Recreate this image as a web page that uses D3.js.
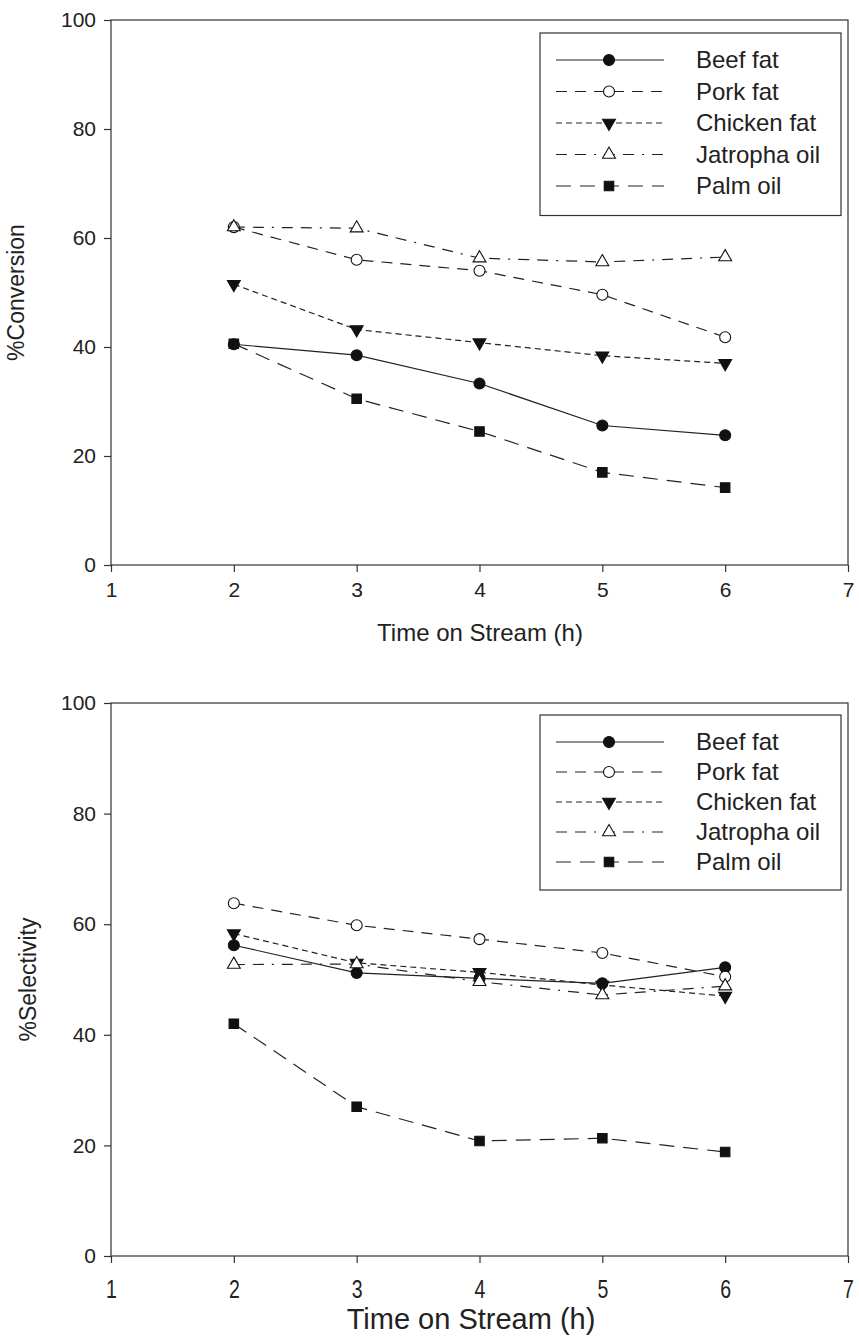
<!DOCTYPE html>
<meta charset="utf-8">
<style>
body { margin: 0; background: #fff; }
svg { font-family: "Liberation Sans", Arial, sans-serif; }
.frame { fill: none; stroke: #333; stroke-width: 1.2px; }
.axis path { display: none; }
.axis line { stroke: #333; stroke-width: 1.2px; }
.axis text { fill: #222; }
.serie { fill: none; stroke: #222; stroke-width: 1.2px; }
.legend-box { fill: #fff; stroke: #333; stroke-width: 1.2px; }
</style>
<body>
<script src="https://d3js.org/d3.v7.min.js"></script>
<script>

// data
var hours = [2, 3, 4, 5, 6];
var seriesNames = ["Beef fat", "Pork fat", "Chicken fat", "Jatropha oil", "Palm oil"];
var yTicks = [0, 20, 40, 60, 80, 100];
var xTicks = [1, 2, 3, 4, 5, 6, 7];

// %Conversion
var convBeef     = [40.5, 38.5, 33.3, 25.6, 23.8];
var convPork     = [62.0, 56.0, 54.0, 49.6, 41.8];
var convChicken  = [51.5, 43.2, 40.8, 38.4, 37.0];
var convJatropha = [62.0, 61.8, 56.3, 55.6, 56.5];
var convPalm     = [40.6, 30.5, 24.5, 17.0, 14.2];

// %Selectivity
var selBeef     = [56.2, 51.2, 50.2, 49.3, 52.2];
var selPork     = [63.8, 59.8, 57.3, 54.8, 50.5];
var selChicken  = [58.3, 53.0, 51.3, 49.0, 47.0];
var selJatropha = [52.7, 52.8, 49.6, 47.2, 48.8];
var selPalm     = [42.0, 27.0, 20.8, 21.3, 18.8];

// how each series is drawn
var styles = [
  {symbol: d3.symbolCircle,   size: 95, fill: "#111", rot: 0,   dash: null},
  {symbol: d3.symbolCircle,   size: 95, fill: "#fff", rot: 0,   dash: "11,8"},
  {symbol: d3.symbolTriangle, size: 72, fill: "#111", rot: 180, dash: "6,4"},
  {symbol: d3.symbolTriangle, size: 72, fill: "#fff", rot: 0,   dash: "11,8,11,8,2,8"},
  {symbol: d3.symbolSquare,   size: 90, fill: "#111", rot: 0,   dash: "15,9"}
];

var charts = [
  {top: 20, bottom: 565, title: "%Conversion", titleX: 24,
   values: [convBeef, convPork, convChicken, convJatropha, convPalm],
   legendTop: 33, legendStep: 31.5, narrow: false,
   xLabelGap: 10, xTitleY: 641, xTitleSize: 24, xTitleMid: 480},
  {top: 703, bottom: 1256, title: "%Selectivity", titleX: 36,
   values: [selBeef, selPork, selChicken, selJatropha, selPalm],
   legendTop: 715, legendStep: 30, narrow: true,
   xLabelGap: 17, xTitleY: 1329, xTitleSize: 29, xTitleMid: 471}
];

var svg = d3.select("body").append("svg")
    .attr("width", 859)
    .attr("height", 1342);

var x = d3.scaleLinear().domain([1, 7]).range([111, 848]);

charts.forEach(function(c) {
  var y = d3.scaleLinear().domain([0, 100]).range([c.bottom, c.top]);
  var g = svg.append("g");

  // y axis
  g.append("g")
      .attr("class", "axis")
      .attr("transform", "translate(" + x(1) + ",0)")
      .call(d3.axisLeft(y).tickValues(yTicks).tickSize(7).tickPadding(8))
    .selectAll("text")
      .style("font-size", "21px");

  // x axis
  var xa = g.append("g")
      .attr("class", "axis")
      .attr("transform", "translate(0," + c.bottom + ")")
      .call(d3.axisBottom(x).tickValues(xTicks).tickFormat(d3.format("d"))
        .tickSize(7).tickPadding(c.xLabelGap));
  xa.selectAll("text")
      .style("font-size", c.narrow ? "25px" : "21px")
      .attr("transform", c.narrow ? "scale(0.78,1)" : null);

  // frame
  g.append("rect")
      .attr("class", "frame")
      .attr("x", x(1))
      .attr("y", c.top)
      .attr("width", x(7) - x(1))
      .attr("height", c.bottom - c.top);

  // axis titles
  g.append("text")
      .attr("x", c.xTitleMid)
      .attr("y", c.xTitleY)
      .attr("text-anchor", "middle")
      .style("font-size", c.xTitleSize + "px")
      .style("fill", "#222")
      .text("Time on Stream (h)");

  g.append("text")
      .attr("transform", "translate(" + c.titleX + "," + ((c.top + c.bottom) / 2) + ") rotate(-90)")
      .attr("text-anchor", "middle")
      .style("font-size", "23px")
      .style("fill", "#222")
      .text(c.title);

  // lines
  var line = d3.line()
      .x(function(d, i) { return x(hours[i]); })
      .y(function(d) { return y(d); });

  c.values.forEach(function(vals, k) {
    g.append("path")
        .datum(vals)
        .attr("class", "serie")
        .attr("d", line)
        .style("stroke-dasharray", styles[k].dash);
  });

  // markers
  c.values.forEach(function(vals, k) {
    var st = styles[k];
    g.selectAll(null)
        .data(vals)
      .enter().append("path")
        .attr("d", d3.symbol().type(st.symbol).size(st.size))
        .attr("transform", function(d, i) {
          return "translate(" + x(hours[i]) + "," + y(d) + ") rotate(" + st.rot + ")";
        })
        .style("fill", st.fill)
        .style("stroke", "#111")
        .style("stroke-width", 1.1);
  });

  // legend
  var lg = g.append("g");
  lg.append("rect")
      .attr("class", "legend-box")
      .attr("x", 540)
      .attr("y", c.legendTop)
      .attr("width", 301)
      .attr("height", c.legendStep * 5 + 25);

  seriesNames.forEach(function(name, k) {
    var st = styles[k];
    var ly = c.legendTop + 27 + k * c.legendStep;
    lg.append("line")
        .attr("x1", 556).attr("x2", 664)
        .attr("y1", ly).attr("y2", ly)
        .attr("class", "serie")
        .style("stroke-dasharray", st.dash);
    lg.append("path")
        .attr("d", d3.symbol().type(st.symbol).size(st.size))
        .attr("transform", "translate(609," + ly + ") rotate(" + st.rot + ")")
        .style("fill", st.fill)
        .style("stroke", "#111")
        .style("stroke-width", 1.1);
    lg.append("text")
        .attr("x", 696)
        .attr("y", ly)
        .attr("dy", "0.35em")
        .style("font-size", "24px")
        .style("fill", "#222")
        .text(name);
  });
});

</script>
</body>
